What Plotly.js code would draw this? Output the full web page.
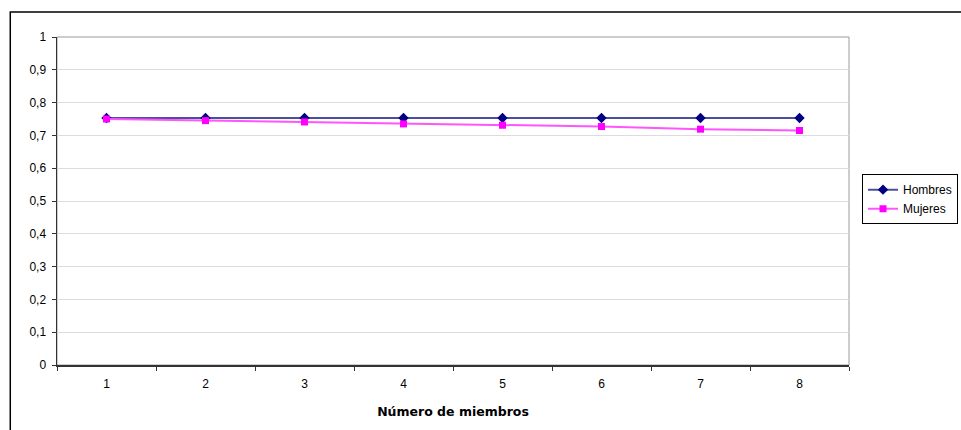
<!DOCTYPE html>
<html>
<head>
<meta charset="utf-8">
<script src="https://cdn.plot.ly/plotly-3.0.1.min.js"></script>
<style>html,body{margin:0;padding:0;background:#fff;}#chart{width:961px;height:430px;}</style>
</head>
<body>
<div id="chart"></div>
<script>
const categories = ['1','2','3','4','5','6','7','8'];
const hombres = [0.753, 0.753, 0.753, 0.753, 0.753, 0.753, 0.753, 0.753];
const mujeres = [0.750, 0.745, 0.741, 0.735, 0.731, 0.727, 0.719, 0.715];
const seriesNames = ['Hombres', 'Mujeres'];
const xTitle = 'Número de miembros';

const traces = [
  {x: categories, y: hombres, name: seriesNames[0], type: 'scatter', mode: 'lines+markers',
   line: {color: '#4b4f9e', width: 2}, marker: {symbol: 'diamond', size: 8, color: '#000080'}},
  {x: categories, y: mujeres, name: seriesNames[1], type: 'scatter', mode: 'lines+markers',
   line: {color: '#ff55ff', width: 2}, marker: {symbol: 'square', size: 7, color: '#ff00ff'}}
];

const layout = {
  width: 961, height: 430,
  margin: {l: 57, r: 112, t: 37, b: 65},
  paper_bgcolor: '#fff', plot_bgcolor: '#fff',
  separators: ',.',
  font: {family: 'Liberation Sans, Arial, sans-serif', size: 12, color: '#000'},
  showlegend: true,
  legend: {xref: 'container', yref: 'container', x: 0.897, y: 0.595, xanchor: 'left', yanchor: 'top',
           bordercolor: '#000', borderwidth: 1, bgcolor: '#fff', font: {size: 12}, tracegroupgap: 2},
  xaxis: {type: 'category', range: [-0.5, 7.5], tickson: 'boundaries', ticks: 'outside', ticklen: 4,
          tickcolor: '#333', showline: true, linecolor: '#333', linewidth: 1.5, showgrid: false,
          zeroline: false, fixedrange: true, ticklabelstandoff: 7, tickfont: {size: 12},
          title: {text: '<b>' + xTitle + '</b>', font: {family: 'DejaVu Sans, sans-serif', size: 12.5}, standoff: 17}},
  yaxis: {range: [0, 1], dtick: 0.1, tick0: 0, ticks: 'outside', ticklen: 4, tickcolor: '#333',
          showline: true, linecolor: '#333', linewidth: 1.5, showgrid: true, gridcolor: '#dcdcdc',
          zeroline: false, fixedrange: true, ticklabelstandoff: 3, tickfont: {size: 12}},
  shapes: [
    {type: 'rect', xref: 'paper', yref: 'paper', x0: 0, x1: 1, y0: 0, y1: 1, line: {color: '#9a9a9a', width: 1}, layer: 'below'},
    {type: 'rect', xref: 'paper', yref: 'paper', x0: -0.059, x1: 1.2, y0: -0.3, y1: 1.076, line: {color: '#000', width: 1.5}}
  ]
};

Plotly.newPlot('chart', traces, layout, {displayModeBar: false, staticPlot: true});
</script>
</body>
</html>
